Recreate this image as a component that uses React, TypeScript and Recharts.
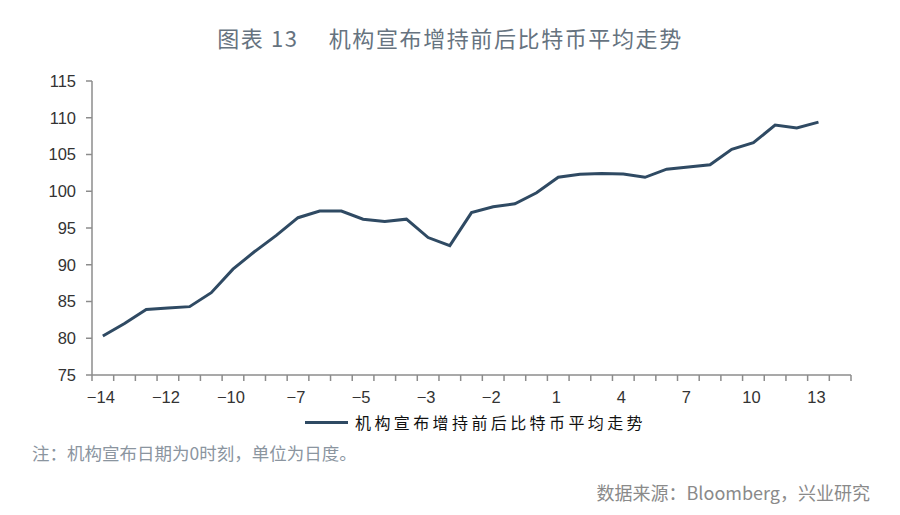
import React from 'react';
import { LineChart, Line, XAxis, YAxis, Legend } from 'recharts';

// days around the announcement, only every third point carries a label
const xLabels = [
  '−14', '', '', '−12', '', '', '−10', '', '', '−7', '', '', '−5', '', '', '−3', '', '',
  '−2', '', '', '1', '', '', '4', '', '', '7', '', '', '10', '', '', '13',
];

const avgTrend = [
  80.3, 82.0, 83.9, 84.1, 84.3, 86.2, 89.4, 91.8, 94.0, 96.4, 97.3, 97.3, 96.2, 95.9, 96.2, 93.7, 92.6,
  97.1, 97.9, 98.3, 99.8, 101.9, 102.3, 102.4, 102.35, 101.9, 103.0, 103.3, 103.6, 105.7, 106.6, 109.0,
  108.6, 109.4,
];

const yTicks = [75, 80, 85, 90, 95, 100, 105, 110, 115];

const seriesName = '机构宣布增持前后比特币平均走势';
const lineColor = '#2f4a63';
const axisColor = '#8c8c8c';

const data = avgTrend.map((v, i) => ({ idx: i, value: v }));

// one extra empty slot on the right, like the original axis
const slotCount = xLabels.length + 1;
const boundaryTicks = Array.from({ length: slotCount + 1 }, (_, k) => k - 0.5);
const labelTicks = xLabels.map((l, i) => (l ? i : null)).filter((v) => v !== null) as number[];
const xTicks = [...boundaryTicks, ...labelTicks].sort((a, b) => a - b);

function XTick(props: any) {
  const { x, y, payload } = props;
  const v = payload.value;
  if (!Number.isInteger(v)) {
    return <line x1={x} y1={y - 6} x2={x} y2={y} stroke={axisColor} strokeWidth={1.5} />;
  }
  return (
    <text x={x - 2} y={y + 22} textAnchor="middle" fontSize={16.5} fill="#333"
      fontFamily="'Liberation Sans', Arial, sans-serif">
      {xLabels[v]}
    </text>
  );
}

function LegendBox(props: any) {
  const item = props.payload && props.payload[0];
  if (!item) return null;
  return (
    <div style={{ display: 'flex', alignItems: 'center', height: 24 }}>
      <span style={{ display: 'inline-block', width: 43, height: 3, background: item.color, marginRight: 7 }} />
      <span style={{ fontFamily: "'Noto Sans CJK SC', sans-serif", fontSize: 16, letterSpacing: 3.4, color: '#111' }}>
        {item.value}
      </span>
    </div>
  );
}

export default function App() {
  return (
    <div style={{ position: 'absolute', left: 0, top: 0, width: 900, height: 515, background: '#fff' }}>
      <LineChart width={900} height={515} data={data} margin={{ top: 81, right: 49, bottom: 110, left: 0 }}>
        <XAxis
          dataKey="idx"
          type="number"
          domain={[-0.5, slotCount - 0.5]}
          ticks={xTicks}
          interval={0}
          tick={<XTick />}
          tickLine={false}
          tickSize={6}
          tickMargin={0}
          height={30}
          axisLine={{ stroke: axisColor, strokeWidth: 1.5 }}
        />
        <YAxis
          domain={[75, 115]}
          ticks={yTicks}
          width={92}
          tickSize={6}
          tickMargin={10}
          axisLine={{ stroke: axisColor, strokeWidth: 1.5 }}
          tickLine={{ stroke: axisColor, strokeWidth: 1.5 }}
          tick={{ fontSize: 16.5, fill: '#333', fontFamily: "'Liberation Sans', Arial, sans-serif" }}
        />
        <Legend
          verticalAlign="middle"
          align="center"
          layout="horizontal"
          content={<LegendBox />}
          wrapperStyle={{ top: 410, left: 305, width: 380, height: 24 }}
        />
        <Line
          type="linear"
          dataKey="value"
          name={seriesName}
          stroke={lineColor}
          strokeWidth={3}
          dot={false}
          isAnimationActive={false}
        />
      </LineChart>
      <div style={{ position: 'absolute', top: 26, left: 0, width: 900, textAlign: 'center', fontSize: 22, lineHeight: '22px',
        fontFamily: "'Noto Sans CJK SC', sans-serif", fontWeight: 400, color: '#66737f', letterSpacing: 1.6 }}>
        图表 13　 机构宣布增持前后比特币平均走势
      </div>
      <div style={{ position: 'absolute', top: 444, left: 32, fontSize: 17.5, lineHeight: '18px',
        fontFamily: "'Noto Sans CJK SC', sans-serif", color: '#8b959f' }}>
        注：机构宣布日期为0时刻，单位为日度。
      </div>
      <div style={{ position: 'absolute', top: 483, right: 30, fontSize: 18, lineHeight: '18px',
        fontFamily: "'Noto Sans CJK SC', sans-serif", color: '#8a8a8a' }}>
        数据来源：Bloomberg，兴业研究
      </div>
    </div>
  );
}
